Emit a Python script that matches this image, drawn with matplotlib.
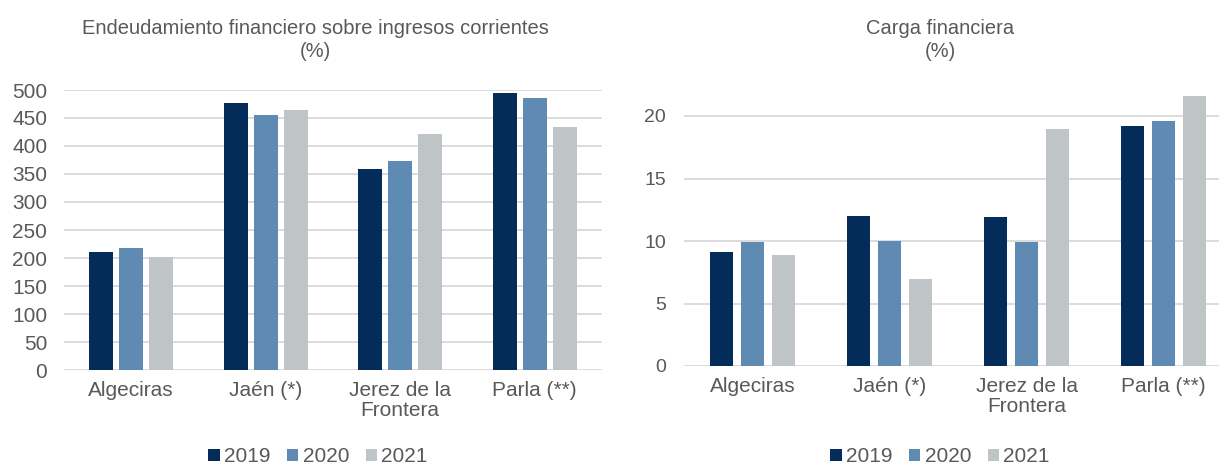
import matplotlib
matplotlib.use("Agg")
import matplotlib.pyplot as plt
import numpy as np
from matplotlib.patches import Patch

plt.rcParams['font.family'] = ['Liberation Sans', 'DejaVu Sans']

categories = ["Algeciras", "Jaén (*)", "Jerez de la\nFrontera", "Parla (**)"]
years = ["2019", "2020", "2021"]
endeud_2019 = [210, 476, 359, 494]
endeud_2020 = [217, 455, 374, 486]
endeud_2021 = [201, 465, 421, 434]
carga_2019 = [9.1, 12.0, 11.9, 19.2]
carga_2020 = [9.9, 10.0, 9.9, 19.6]
carga_2021 = [8.9, 7.0, 19.0, 21.6]
left_ticks = [0, 50, 100, 150, 200, 250, 300, 350, 400, 450, 500]
right_ticks = [0, 5, 10, 15, 20]

colors = ["#032c5a", "#5e8ab4", "#bfc4c7"]
txt = "#595959"
grid = "#d9d9d9"

fig = plt.figure(figsize=(12.19, 4.68), dpi=100)
ax1 = fig.add_axes([64/1219, 1-370/468, 538/1219, 280/468])
ax2 = fig.add_axes([684/1219, 1-366/468, 548/1219, 275/468])

x = np.arange(len(categories))

def draw(ax, series, ticks, ylim, tsize, off, w, pad):
    for i, (vals, c) in enumerate(zip(series, colors)):
        ax.bar(x + (i-1)*off, vals, width=w, color=c, zorder=3)
    ax.set_xlim(-0.5, len(categories)-0.5)
    ax.set_ylim(*ylim)
    ax.set_yticks(ticks)
    ax.yaxis.grid(True, color=grid, linewidth=1.3, zorder=0)
    ax.set_axisbelow(True)
    for s in ax.spines.values():
        s.set_visible(False)
    ax.tick_params(axis='both', length=0, colors=txt)
    ax.tick_params(axis='y', labelsize=tsize, pad=pad)
    ax.set_xticks(x)
    ax.set_xticklabels(categories, fontsize=15, color=txt, linespacing=1.05)
    ax.tick_params(axis='x', pad=8)

draw(ax1, [endeud_2019, endeud_2020, endeud_2021], left_ticks, (0, 500), 15, 0.223, 0.175, 12)
draw(ax2, [carga_2019, carga_2020, carga_2021], right_ticks, (0, 22), 14, 0.226, 0.17, 13)

fig.text(315/1219, 1-40/468, "Endeudamiento financiero sobre ingresos corrientes\n(%)",
         ha='center', va='center', fontsize=14.5, color=txt, linespacing=1.3)
fig.text(940/1219, 1-40/468, "Carga financiera\n(%)",
         ha='center', va='center', fontsize=14.5, color=txt, linespacing=1.3)

handles = [Patch(facecolor=c) for c in colors]
for cx in (318/1219, 940/1219):
    fig.legend(handles, years, loc='center', bbox_to_anchor=(cx, 1-457/468),
               ncol=3, frameon=False, fontsize=15, handlelength=0.55, handleheight=0.55,
               handletextpad=0.2, columnspacing=0.8, labelcolor=txt)

fig.savefig("out.png", dpi=100)
